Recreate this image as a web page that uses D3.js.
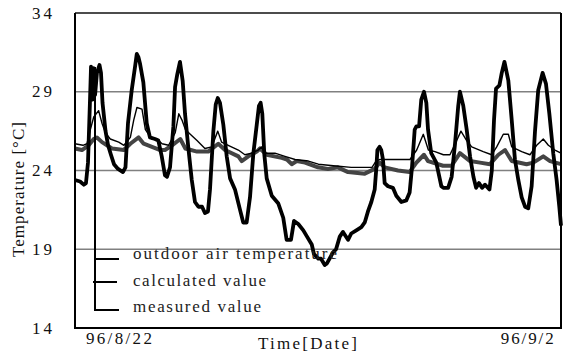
<!DOCTYPE html>
<html>
<head>
<meta charset="utf-8">
<script src="https://cdn.jsdelivr.net/npm/d3@7"></script>
<style>
  html, body { margin: 0; padding: 0; background: #fff; }
  svg { display: block; }
</style>
</head>
<body>
<svg id="chart" width="564" height="355"></svg>
<script>
// Hourly time axis: hours since 96/8/21 00:00, twelve days shown.
const timeDomain = [0, 288];
const tempDomain = [14, 34];
const tempTicks = [14, 19, 24, 29, 34];
const gridTemps = [19, 24, 29];
const dateLabels = ["96/8/22", "96/9/2"];
const dateLabelHours = [26, 268];

const seriesNames = ["outdoor air temperature", "calculated value", "measured value"];

// Outdoor air temperature [°C]
const outdoorHours = [0, 3.0, 5.2, 6.5, 7.7, 8.9, 9.5, 10.4, 11.0, 11.9, 13.0, 14.5, 15.4, 16.3, 18.1, 19.6, 21.3, 23.1, 25.5, 28.4,
  29.9, 31.4, 33.6, 35.6, 36.6, 37.6, 38.5, 40.5, 42.5, 44.4, 47.4, 49.4, 51.4, 53.3, 54.5, 56.3, 58.3, 59.3, 60.6, 62.2,
  63.8, 65.2, 67.1, 69.2, 71.1, 73.1, 75.3, 77.0, 78.8, 80.0, 82.0, 83.4, 84.6, 85.9, 87.9, 89.9, 91.9, 94.8, 97.8, 99.7,
  101.7, 103.7, 105.7, 107.7, 109.0, 110.0, 111.0, 112.2, 113.6, 116.6, 120.5, 123.4, 125.4, 128.0, 129.8, 132.3, 135.3, 137.5, 140.3, 141.6,
  144.2, 145.8, 148.0, 149.3, 152.9, 154.7, 156.9, 158.8, 161.8, 163.7, 166.7, 169.7, 171.7, 173.6, 175.6, 177.6, 178.6, 179.2, 180.5, 181.5,
  182.5, 183.5, 185.5, 188.4, 190.4, 193.4, 196.3, 198.3, 199.7, 201.3, 202.3, 203.9, 205.2, 206.8, 208.2, 209.2, 211.1, 214.1, 217.1, 218.3,
  221.1, 223.2, 225.2, 227.1, 228.1, 230.1, 232.1, 234.1, 236.1, 237.7, 239.4, 241.2, 243.0, 245.6, 247.0, 248.3, 249.5, 251.5, 252.9, 254.5,
  256.8, 258.8, 260.7, 262.7, 264.7, 266.7, 268.6, 270.6, 272.6, 274.5, 277.1, 279.1, 281.1, 283.4, 285.4, 287.0, 288];
const outdoorTemps = [23.4, 23.3, 23.1, 23.2, 24.5, 28.5, 30.6, 28.5, 30.5, 28.8, 30.2, 30.7, 30.2, 28.3, 26.5, 25.6, 25.0, 24.4, 24.1, 23.9,
  24.2, 27.0, 29.1, 30.6, 31.4, 31.2, 30.8, 29.6, 27.0, 26.1, 26.0, 25.9, 24.9, 23.7, 23.6, 24.2, 26.8, 29.3, 30.1, 30.9,
  29.7, 27.6, 25.5, 23.4, 22.0, 21.7, 21.7, 21.3, 21.4, 22.8, 26.5, 28.2, 28.6, 28.3, 26.9, 24.9, 23.5, 22.8, 21.5, 20.7,
  20.7, 22.3, 25.1, 26.9, 28.1, 28.3, 27.6, 25.0, 23.5, 22.4, 21.9, 21.0, 19.6, 19.6, 20.8, 20.6, 20.2, 19.8, 19.3, 18.7,
  18.4, 18.4, 18.0, 18.1, 18.8, 19.0, 19.8, 20.1, 19.6, 20.0, 20.2, 20.4, 20.7, 21.4, 22.0, 22.8, 24.2, 25.3, 25.5, 25.3,
  24.7, 23.2, 23.0, 22.9, 22.4, 22.0, 22.1, 22.6, 24.2, 26.6, 26.8, 26.8, 28.5, 29.0, 28.3, 26.6, 25.1, 24.5, 23.0, 22.9,
  22.9, 23.6, 25.7, 28.1, 29.0, 28.1, 26.6, 24.9, 23.6, 22.9, 23.2, 22.9, 23.1, 22.8, 24.0, 27.2, 29.2, 29.4, 30.2, 30.9,
  29.7, 27.2, 24.7, 23.4, 22.3, 21.7, 21.6, 23.0, 26.5, 29.1, 30.2, 29.5, 27.6, 25.1, 23.4, 21.7, 20.5];

// Calculated room temperature [°C]
const calculatedHours = [0, 4.7, 7.1, 9.1, 11.1, 14.0, 16.0, 18.0, 20.9, 25.9, 29.0, 32.8, 34.8, 36.7, 39.7, 41.7, 45.6, 48.6, 51.6, 55.5,
  59.4, 61.5, 63.4, 65.4, 68.3, 72.3, 77.0, 81.0, 84.6, 86.9, 90.8, 96.8, 100.7, 104.7, 108.6, 110.6, 112.6, 118.5, 124.4, 130.4,
  138.3, 144.2, 153.1, 163.7, 172.9, 176.0, 178.4, 180.7, 198.5, 202.5, 206.4, 209.4, 213.3, 218.3, 222.2, 226.2, 228.7, 232.1, 235.1, 241.9,
  246.9, 249.9, 253.8, 256.8, 258.8, 264.7, 269.6, 273.6, 277.5, 280.5, 284.4, 288];
const calculatedTemps = [25.7, 25.6, 25.7, 26.6, 27.4, 27.8, 27.0, 26.4, 26.0, 25.8, 25.6, 26.1, 27.2, 28.0, 27.9, 26.6, 26.0, 26.0, 25.7, 25.6,
  26.4, 27.6, 27.2, 26.6, 26.3, 25.9, 25.4, 25.5, 26.5, 25.8, 25.6, 25.3, 25.0, 25.1, 25.3, 25.5, 25.1, 25.1, 24.9, 24.7,
  24.6, 24.4, 24.3, 24.2, 24.2, 24.2, 24.6, 24.7, 24.7, 25.3, 26.3, 25.3, 25.2, 25.0, 25.0, 25.9, 26.5, 25.9, 25.5, 25.2,
  25.0, 25.5, 26.3, 26.3, 25.5, 25.2, 25.0, 25.6, 26.0, 25.6, 25.3, 25.1];

// Measured room temperature [°C]
const measuredHours = [0, 4.1, 8.1, 11.1, 13.0, 16.0, 21.9, 28.9, 32.8, 37.7, 40.7, 45.6, 50.5, 53.3, 57.5, 62.4, 65.4, 72.3, 79.0, 84.9,
  88.9, 96.8, 98.8, 102.7, 107.7, 109.6, 113.6, 122.5, 125.6, 128.4, 131.4, 136.3, 144.0, 149.9, 155.8, 161.8, 171.7, 177.6, 180.5, 183.5,
  191.4, 198.3, 202.3, 206.8, 209.2, 218.1, 223.2, 228.1, 234.1, 240.0, 245.9, 250.9, 254.8, 258.8, 267.6, 271.6, 277.5, 281.5, 288];
const measuredTemps = [25.4, 25.3, 25.6, 26.0, 26.1, 25.8, 25.4, 25.3, 25.7, 26.1, 25.7, 25.5, 25.3, 25.3, 25.6, 26.0, 25.4, 25.2, 25.2, 25.7,
  25.3, 24.9, 24.6, 24.9, 25.2, 25.4, 25.0, 24.8, 24.7, 24.4, 24.6, 24.5, 24.2, 24.1, 24.2, 23.9, 23.8, 24.1, 24.5, 24.2,
  24.0, 23.9, 24.5, 25.0, 24.6, 24.3, 24.3, 25.1, 24.6, 24.5, 24.4, 25.0, 25.3, 24.6, 24.4, 24.5, 24.9, 24.6, 24.4];

const fontFamily = "Liberation Serif";

const svg = d3.select("#chart");
const plot = { left: 75, right: 561, top: 13, bottom: 328 };

const x = d3.scaleLinear().domain(timeDomain).range([plot.left, plot.right]);
const y = d3.scaleLinear().domain(tempDomain).range([plot.bottom, plot.top]);

// Horizontal gridlines
svg.append("g")
  .selectAll("line")
  .data(gridTemps)
  .join("line")
  .attr("x1", plot.left).attr("x2", plot.right)
  .attr("y1", d => y(d)).attr("y2", d => y(d))
  .attr("stroke", "#808080")
  .attr("stroke-width", 1.4);

const labels = svg.append("g")
  .attr("font-family", fontFamily)
  .attr("font-size", 17)
  .attr("fill", "#111");

// Y tick labels
labels.append("g")
  .selectAll("text")
  .data(tempTicks)
  .join("text")
  .attr("x", 52)
  .attr("y", d => y(d))
  .attr("dy", "0.33em")
  .attr("text-anchor", "end")
  .attr("textLength", 20)
  .attr("lengthAdjust", "spacing")
  .text(d => d);

// Date labels under the axis
labels.append("g")
  .selectAll("text")
  .data(dateLabels)
  .join("text")
  .attr("x", (d, i) => x(dateLabelHours[i]))
  .attr("y", 344)
  .attr("text-anchor", "middle")
  .attr("textLength", (d, i) => i === 0 ? 66 : 53)
  .attr("lengthAdjust", "spacing")
  .text(d => d);

// Axis titles
labels.append("text")
  .attr("x", 307.5).attr("y", 349)
  .attr("text-anchor", "middle")
  .attr("textLength", 99)
  .attr("lengthAdjust", "spacing")
  .text("Time[Date]");

labels.append("text")
  .attr("transform", "translate(24,189.5) rotate(-90)")
  .attr("text-anchor", "middle")
  .attr("textLength", 135)
  .attr("lengthAdjust", "spacing")
  .text("Temperature [°C]");

// Series lines
const line = d3.line().x(d => x(d[0])).y(d => y(d[1]));
const zipSeries = (hs, ts) => hs.map((h, i) => [h, ts[i]]);

svg.append("path")
  .datum(zipSeries(measuredHours, measuredTemps))
  .attr("d", line)
  .attr("fill", "none")
  .attr("stroke", "#444")
  .attr("stroke-width", 4)
  .attr("stroke-linejoin", "round");

svg.append("path")
  .datum(zipSeries(calculatedHours, calculatedTemps))
  .attr("d", line)
  .attr("fill", "none")
  .attr("stroke", "#000")
  .attr("stroke-width", 1.4)
  .attr("stroke-linejoin", "round");

svg.append("path")
  .datum(zipSeries(outdoorHours, outdoorTemps))
  .attr("d", line)
  .attr("fill", "none")
  .attr("stroke", "#000")
  .attr("stroke-width", 3.8)
  .attr("stroke-linejoin", "round");

// Legend: bracket of sample strokes with labels
const legend = svg.append("g");
legend.append("line")
  .attr("x1", 95).attr("x2", 95)
  .attr("y1", 67).attr("y2", 311)
  .attr("stroke", "#000").attr("stroke-width", 2);
const legendRows = [
  { x1: 96, x2: 119, y: 259, textY: 259, len: 204 },
  { x1: 93, x2: 117, y: 282, textY: 285.5, len: 133 },
  { x1: 95, x2: 119, y: 310, textY: 312, len: 128 }
];
legend.selectAll("line.sample")
  .data(legendRows)
  .join("line")
  .attr("class", "sample")
  .attr("x1", d => d.x1).attr("x2", d => d.x2)
  .attr("y1", d => d.y).attr("y2", d => d.y)
  .attr("stroke", "#000").attr("stroke-width", 2);
legend.selectAll("text")
  .data(legendRows)
  .join("text")
  .attr("x", 133)
  .attr("y", d => d.textY)
  .attr("font-family", fontFamily)
  .attr("font-size", 17)
  .attr("fill", "#222")
  .attr("textLength", d => d.len)
  .attr("lengthAdjust", "spacing")
  .text((d, i) => seriesNames[i]);

// Plot frame
svg.append("line")
  .attr("x1", plot.left).attr("x2", plot.right)
  .attr("y1", plot.top).attr("y2", plot.top)
  .attr("stroke", "#111").attr("stroke-width", 1.5);
svg.append("path")
  .attr("d", `M${plot.left},${plot.top}V${plot.bottom}H${plot.right}V${plot.top}`)
  .attr("fill", "none")
  .attr("stroke", "#000")
  .attr("stroke-width", 2);
</script>
</body>
</html>
